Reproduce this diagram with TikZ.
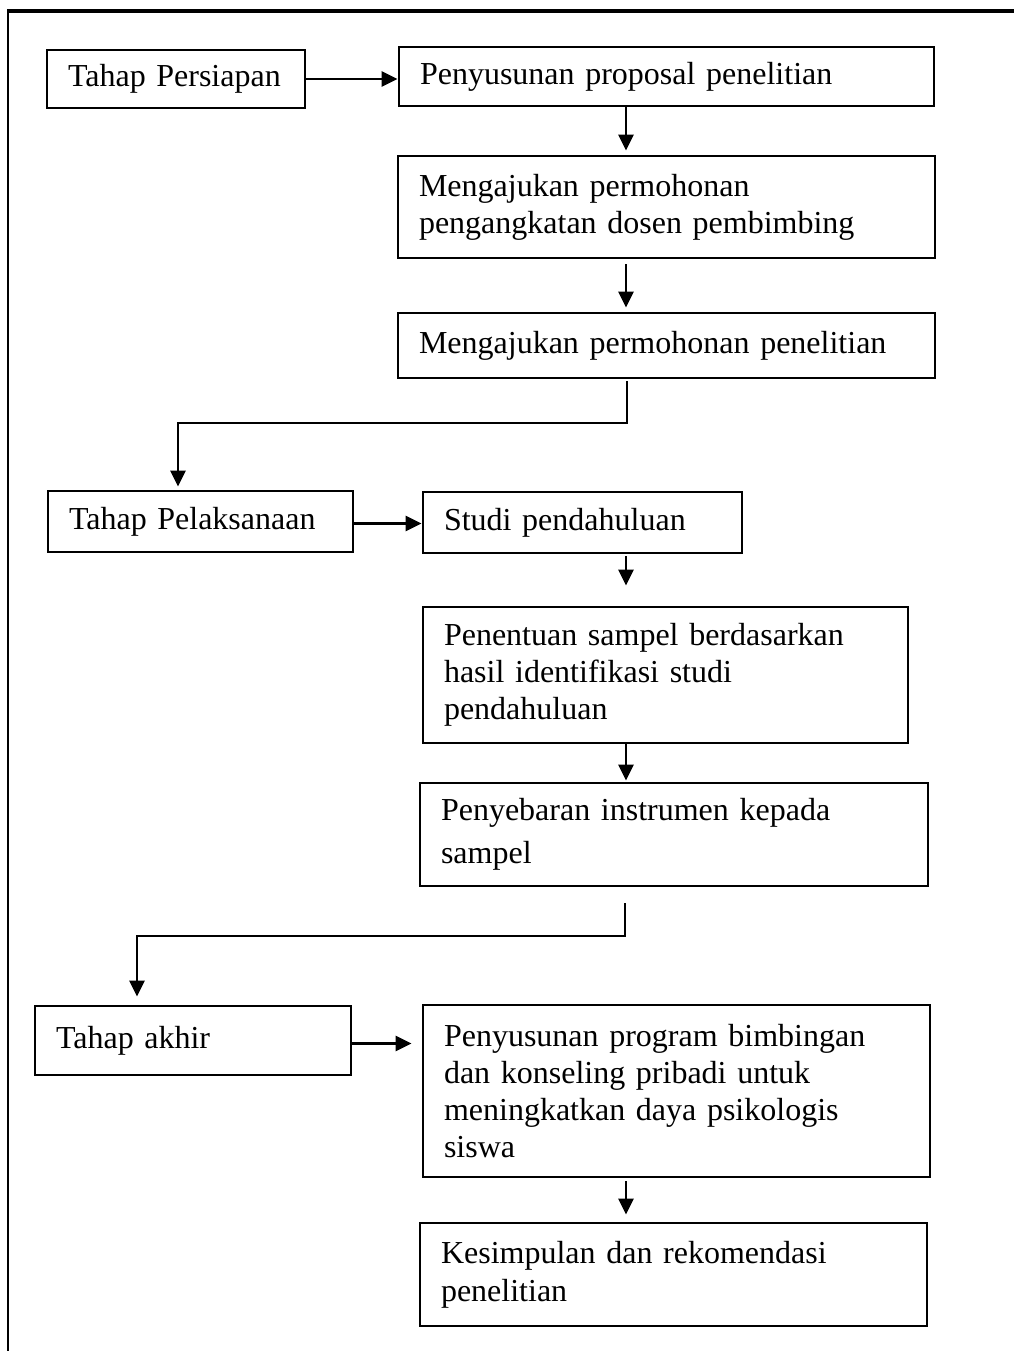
\documentclass[tikz,border=0pt]{standalone}
\usepackage{fontspec}
\setmainfont[Ligatures=NoCommon]{Liberation Serif}
\usetikzlibrary{arrows.meta,calc}
\tikzset{
  box/.style={draw, line width=2.8pt, align=left, inner xsep=21pt, inner ysep=0pt,
    font=\fontsize{32}{37}\selectfont, anchor=center},
  arr/.style={line width=2.8pt, -{Triangle[length=16pt,width=15pt]}}
}
\begin{document}
\begin{tikzpicture}[x=1pt,y=-1pt]
\useasboundingbox (0,0) rectangle (1014,1351);
% frame
\draw[line width=2.2pt] (8,11) -- (8,1351);
\draw[line width=3.2pt] (7,11) -- (1014,11);
% boxes
\node[box, text width=216pt, minimum height=58pt] (b1) at (176,79) {Tahap Persiapan};
\node[box, text width=493pt, minimum height=59pt] (b2) at (666.5,76.5) {Penyusunan proposal penelitian};
\node[box, text width=495pt, minimum height=102pt] (b3) at (666.5,207) {Mengajukan permohonan\\pengangkatan dosen pembimbing};
\node[box, text width=495pt, minimum height=65pt] (b4) at (666.5,345.5) {Mengajukan permohonan penelitian};
\node[box, text width=263pt, minimum height=61pt] (b5) at (200.5,521.5) {Tahap Pelaksanaan};
\node[box, text width=277pt, minimum height=61pt] (b6) at (582.5,522.5) {Studi pendahuluan};
\node[box, text width=443pt, minimum height=136pt] (b7) at (665.5,675) {Penentuan sampel berdasarkan\\hasil identifikasi studi\\pendahuluan};
\node[box, text width=466pt, minimum height=103pt, font=\fontsize{32}{43}\selectfont] (b8) at (674,834.5) {Penyebaran instrumen kepada\\sampel};
\node[box, text width=274pt, minimum height=69pt] (b9) at (193,1040.5) {Tahap akhir};
\node[box, text width=465pt, minimum height=172pt] (b10) at (676.5,1091) {Penyusunan program bimbingan\\dan konseling pribadi untuk\\meningkatkan daya psikologis\\siswa};
\node[box, text width=465pt, minimum height=103pt, font=\fontsize{32}{38}\selectfont] (b11) at (673.5,1274.5) {Kesimpulan dan rekomendasi\\penelitian};
% connector points
\coordinate (cx) at (626,0);
\coordinate (k1) at (627,423);
\coordinate (k2) at (178,423);
\coordinate (k3) at (625,936);
\coordinate (k4) at (137,936);
% arrows
\draw[arr] (b1.east) -- (b2.west |- b1.east);
\draw[arr, shorten >=4pt] (b2.south -| cx) -- (b3.north -| cx);
\draw[arr, shorten <=5pt, shorten >=4pt] (b3.south -| cx) -- (b4.north -| cx);
\draw[arr, shorten <=2pt, shorten >=3pt] (b4.south -| k1) -- (k1) -- (k2) -- (b5.north -| k2);
\draw[arr] ([yshift=-2pt]b5.east) -- ([yshift=-2pt]b6.west |- b5.east);
\draw[arr, shorten <=2pt, shorten >=20pt] (b6.south -| cx) -- (b7.north -| cx);
\draw[arr, shorten >=1pt] (b7.south -| cx) -- (b8.north -| cx);
\draw[arr, shorten <=16pt, shorten >=8pt] (b8.south -| k3) -- (k3) -- (k4) -- (b9.north -| k4);
\draw[arr, shorten >=10pt] ([yshift=-3pt]b9.east) -- ([yshift=-3pt]b10.west |- b9.east);
\draw[arr, shorten <=3pt, shorten >=7pt] (b10.south -| cx) -- (b11.north -| cx);
\end{tikzpicture}
\end{document}
